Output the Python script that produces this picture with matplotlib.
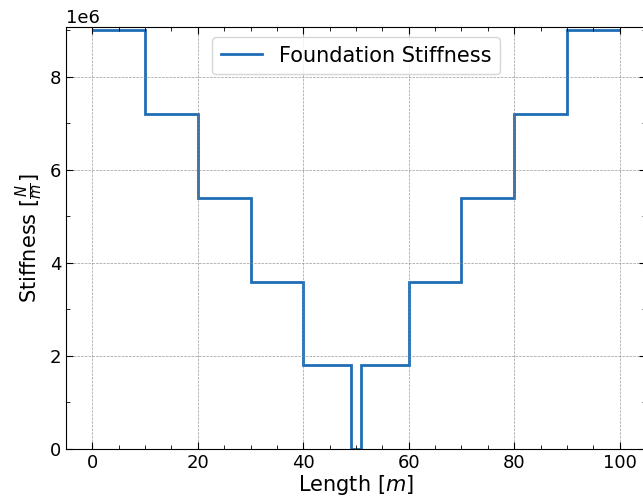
import matplotlib
matplotlib.use("Agg")
import matplotlib.pyplot as plt
from matplotlib.ticker import AutoMinorLocator

edges = [0, 10, 20, 30, 40, 49, 51, 60, 70, 80, 90, 100]
stiffness = [9.0e6, 7.2e6, 5.4e6, 3.6e6, 1.8e6, 0.0, 1.8e6, 3.6e6, 5.4e6, 7.2e6, 9.0e6]

fig = plt.figure(figsize=(6.43, 5.04), dpi=100)
ax = fig.add_axes([0.1026, 0.1091, 0.902, 0.8373])
ax.stairs(stiffness, edges, baseline=None, color="#1f6db4", linewidth=2,
          label="Foundation Stiffness")
ax.set_xlim(-5, 105)
ax.set_ylim(0, 9.07e6)
ax.set_xticks([0, 20, 40, 60, 80, 100])
ax.set_yticks([0, 2e6, 4e6, 6e6, 8e6])
ax.xaxis.set_minor_locator(AutoMinorLocator(4))
ax.yaxis.set_minor_locator(AutoMinorLocator(2))
ax.tick_params(which="both", direction="in", top=True, right=True, labelsize=13)
ax.tick_params(which="major", length=5)
ax.tick_params(which="minor", length=3)
ax.yaxis.get_offset_text().set_fontsize(13)
ax.grid(True, which="major", linestyle="--", color="gray", linewidth=0.5, alpha=0.8)
ax.set_xlabel(r"Length [$m$]", fontsize=15, labelpad=1)
ax.set_ylabel(r"Stiffness [$\frac{N}{m}$]", fontsize=15, labelpad=3)
ax.legend(loc="upper center", fontsize=15)
fig.savefig("out.png", dpi=100)
